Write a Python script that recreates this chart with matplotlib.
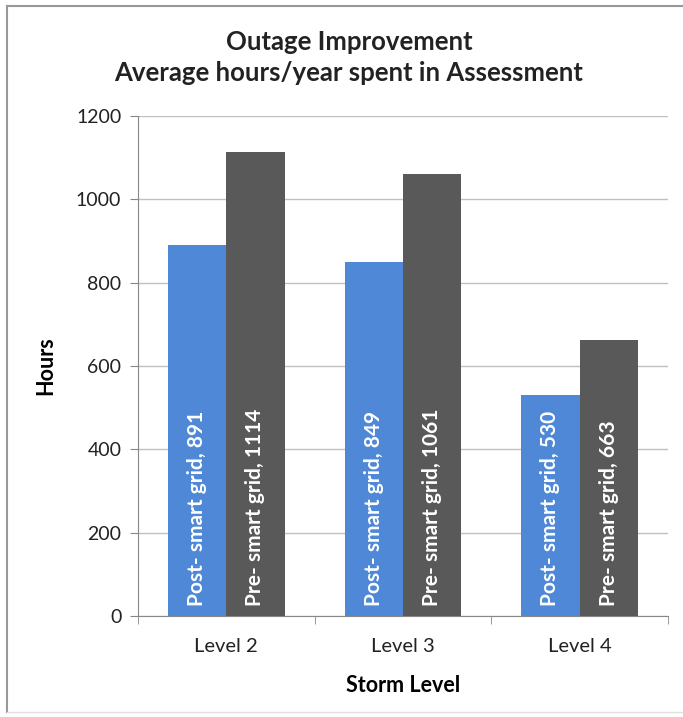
import matplotlib
matplotlib.use("Agg")
import matplotlib.pyplot as plt
import numpy as np
from matplotlib.lines import Line2D

plt.rcParams['font.family'] = ['Lato', 'DejaVu Sans']

categories = ["Level 2", "Level 3", "Level 4"]
series_names = ["Post- smart grid", "Pre- smart grid"]
post_values = [891, 849, 530]
pre_values = [1114, 1061, 663]
y_ticks = [0, 200, 400, 600, 800, 1000, 1200]

colors = ["#4F88D6", "#595959"]

fig = plt.figure(figsize=(6.83, 7.17), dpi=100)
ax = fig.add_axes([0.202, 0.1409, 0.776, 0.6973])

x = np.arange(len(categories))
width = 0.33
for i, (name, vals) in enumerate(zip(series_names, [post_values, pre_values])):
    offs = (i - 0.5) * width
    ax.bar(x + offs, vals, width=width, color=colors[i], zorder=3)
    for xi, v in zip(x, vals):
        ax.text(xi + offs, 25, f"{name}, {v}", rotation=90, ha='center', va='bottom',
                color='white', fontsize=15, fontweight='bold', zorder=4)

ax.set_xlim(-0.5, len(categories) - 0.5)
ax.set_ylim(0, 1200)
ax.set_yticks(y_ticks)
ax.set_yticklabels([str(t) for t in y_ticks], fontsize=14, color='#222222')
ax.yaxis.grid(True, color='#C0C0C0', linewidth=1, zorder=0)
ax.set_axisbelow(True)

ax.set_xticks(x)
ax.set_xticklabels(categories, fontsize=14.5, color='#222222')
ax.tick_params(axis='x', length=0, pad=16)
ax.set_xticks(np.arange(len(categories) + 1) - 0.5, minor=True)
ax.tick_params(axis='x', which='minor', length=6, color='#888888')
ax.tick_params(axis='y', length=6, color='#888888', pad=6)

for s in ['top', 'right']:
    ax.spines[s].set_visible(False)
for s in ['left', 'bottom']:
    ax.spines[s].set_color('#888888')

ax.set_ylabel("Hours", fontsize=15.5, fontweight='bold', labelpad=14)
ax.set_xlabel("Storm Level", fontsize=15.5, fontweight='bold', labelpad=14)

fig.text(0.511, 0.941, "Outage Improvement", ha='center', va='center',
         fontsize=18.5, fontweight='bold', color='#222222')
fig.text(0.511, 0.898, "Average hours/year spent in Assessment", ha='center', va='center',
         fontsize=18.5, fontweight='bold', color='#222222')

# chart area frame
x0, y_top, y_bot = 7 / 683, 1 - 6 / 717, 1 - 712 / 717
fig.lines.append(Line2D([x0, 1.0], [y_top, y_top], transform=fig.transFigure,
                        color='#999999', linewidth=1.5))
fig.lines.append(Line2D([x0, x0], [y_bot, y_top], transform=fig.transFigure,
                        color='#999999', linewidth=1.5))
fig.lines.append(Line2D([x0, 1.0], [y_bot, y_bot], transform=fig.transFigure,
                        color='#E0E0E0', linewidth=1))

fig.savefig("out.png", dpi=100)
